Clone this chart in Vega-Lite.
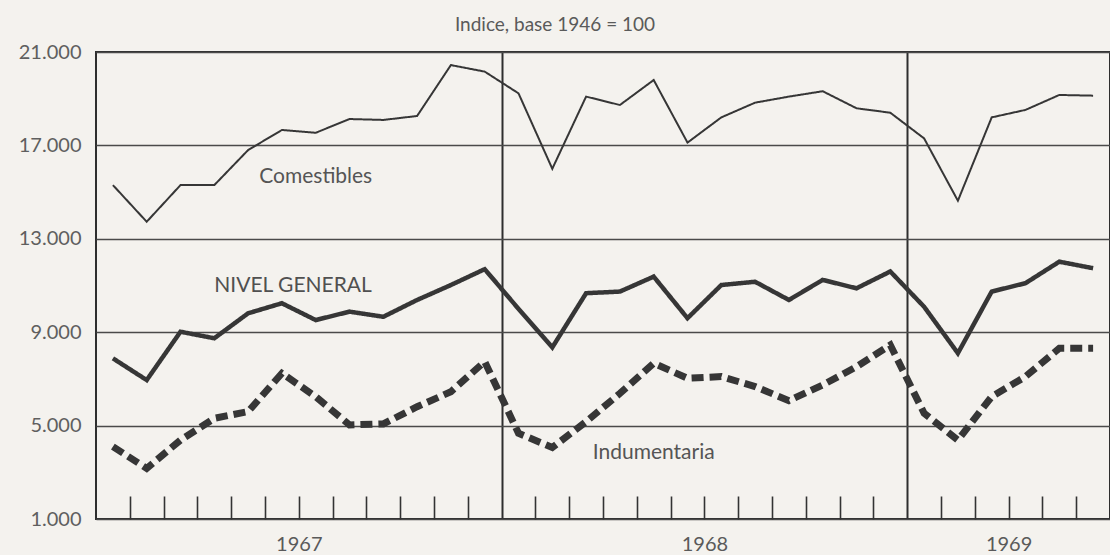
{
  "$schema": "https://vega.github.io/schema/vega-lite/v6.json",
  "width": 1014,
  "height": 467,
  "autosize": "none",
  "padding": {"left": 96, "top": 52, "right": 0, "bottom": 36},
  "background": "#f4f2ee",
  "config": {
    "view": {"stroke": "#2e2e2e", "strokeWidth": 2},
    "font": "Lato"
  },
  "title": {
    "text": "Indice, base 1946 = 100",
    "fontSize": 19,
    "fontWeight": "normal",
    "color": "#5a5a5a",
    "font": "Lato",
    "anchor": "middle",
    "dx": -48,
    "offset": 7
  },
  "datasets": {
    "series": [
      {"serie": "Comestibles", "mes": 1, "valor": 15300},
      {"serie": "Comestibles", "mes": 2, "valor": 13730},
      {"serie": "Comestibles", "mes": 3, "valor": 15300},
      {"serie": "Comestibles", "mes": 4, "valor": 15300},
      {"serie": "Comestibles", "mes": 5, "valor": 16800},
      {"serie": "Comestibles", "mes": 6, "valor": 17660},
      {"serie": "Comestibles", "mes": 7, "valor": 17540},
      {"serie": "Comestibles", "mes": 8, "valor": 18130},
      {"serie": "Comestibles", "mes": 9, "valor": 18090},
      {"serie": "Comestibles", "mes": 10, "valor": 18260},
      {"serie": "Comestibles", "mes": 11, "valor": 20440},
      {"serie": "Comestibles", "mes": 12, "valor": 20160},
      {"serie": "Comestibles", "mes": 13, "valor": 19230},
      {"serie": "Comestibles", "mes": 14, "valor": 16000},
      {"serie": "Comestibles", "mes": 15, "valor": 19090},
      {"serie": "Comestibles", "mes": 16, "valor": 18730},
      {"serie": "Comestibles", "mes": 17, "valor": 19800},
      {"serie": "Comestibles", "mes": 18, "valor": 17120},
      {"serie": "Comestibles", "mes": 19, "valor": 18200},
      {"serie": "Comestibles", "mes": 20, "valor": 18830},
      {"serie": "Comestibles", "mes": 21, "valor": 19090},
      {"serie": "Comestibles", "mes": 22, "valor": 19320},
      {"serie": "Comestibles", "mes": 23, "valor": 18590},
      {"serie": "Comestibles", "mes": 24, "valor": 18400},
      {"serie": "Comestibles", "mes": 25, "valor": 17300},
      {"serie": "Comestibles", "mes": 26, "valor": 14630},
      {"serie": "Comestibles", "mes": 27, "valor": 18200},
      {"serie": "Comestibles", "mes": 28, "valor": 18520},
      {"serie": "Comestibles", "mes": 29, "valor": 19160},
      {"serie": "Comestibles", "mes": 30, "valor": 19130},
      {"serie": "Nivel general", "mes": 1, "valor": 7880},
      {"serie": "Nivel general", "mes": 2, "valor": 6950},
      {"serie": "Nivel general", "mes": 3, "valor": 9020},
      {"serie": "Nivel general", "mes": 4, "valor": 8740},
      {"serie": "Nivel general", "mes": 5, "valor": 9810},
      {"serie": "Nivel general", "mes": 6, "valor": 10240},
      {"serie": "Nivel general", "mes": 7, "valor": 9520},
      {"serie": "Nivel general", "mes": 8, "valor": 9880},
      {"serie": "Nivel general", "mes": 9, "valor": 9660},
      {"serie": "Nivel general", "mes": 10, "valor": 10380},
      {"serie": "Nivel general", "mes": 11, "valor": 11020},
      {"serie": "Nivel general", "mes": 12, "valor": 11700},
      {"serie": "Nivel general", "mes": 13, "valor": 10000},
      {"serie": "Nivel general", "mes": 14, "valor": 8350},
      {"serie": "Nivel general", "mes": 15, "valor": 10670},
      {"serie": "Nivel general", "mes": 16, "valor": 10740},
      {"serie": "Nivel general", "mes": 17, "valor": 11380},
      {"serie": "Nivel general", "mes": 18, "valor": 9600},
      {"serie": "Nivel general", "mes": 19, "valor": 11020},
      {"serie": "Nivel general", "mes": 20, "valor": 11160},
      {"serie": "Nivel general", "mes": 21, "valor": 10380},
      {"serie": "Nivel general", "mes": 22, "valor": 11240},
      {"serie": "Nivel general", "mes": 23, "valor": 10880},
      {"serie": "Nivel general", "mes": 24, "valor": 11600},
      {"serie": "Nivel general", "mes": 25, "valor": 10090},
      {"serie": "Nivel general", "mes": 26, "valor": 8100},
      {"serie": "Nivel general", "mes": 27, "valor": 10740},
      {"serie": "Nivel general", "mes": 28, "valor": 11100},
      {"serie": "Nivel general", "mes": 29, "valor": 12020},
      {"serie": "Nivel general", "mes": 30, "valor": 11740},
      {"serie": "Indumentaria", "mes": 1, "valor": 4100},
      {"serie": "Indumentaria", "mes": 2, "valor": 3170},
      {"serie": "Indumentaria", "mes": 3, "valor": 4380},
      {"serie": "Indumentaria", "mes": 4, "valor": 5310},
      {"serie": "Indumentaria", "mes": 5, "valor": 5600},
      {"serie": "Indumentaria", "mes": 6, "valor": 7240},
      {"serie": "Indumentaria", "mes": 7, "valor": 6240},
      {"serie": "Indumentaria", "mes": 8, "valor": 5030},
      {"serie": "Indumentaria", "mes": 9, "valor": 5070},
      {"serie": "Indumentaria", "mes": 10, "valor": 5810},
      {"serie": "Indumentaria", "mes": 11, "valor": 6450},
      {"serie": "Indumentaria", "mes": 12, "valor": 7740},
      {"serie": "Indumentaria", "mes": 13, "valor": 4670},
      {"serie": "Indumentaria", "mes": 14, "valor": 4060},
      {"serie": "Indumentaria", "mes": 15, "valor": 5170},
      {"serie": "Indumentaria", "mes": 16, "valor": 6380},
      {"serie": "Indumentaria", "mes": 17, "valor": 7670},
      {"serie": "Indumentaria", "mes": 18, "valor": 7030},
      {"serie": "Indumentaria", "mes": 19, "valor": 7100},
      {"serie": "Indumentaria", "mes": 20, "valor": 6670},
      {"serie": "Indumentaria", "mes": 21, "valor": 6070},
      {"serie": "Indumentaria", "mes": 22, "valor": 6740},
      {"serie": "Indumentaria", "mes": 23, "valor": 7520},
      {"serie": "Indumentaria", "mes": 24, "valor": 8450},
      {"serie": "Indumentaria", "mes": 25, "valor": 5530},
      {"serie": "Indumentaria", "mes": 26, "valor": 4380},
      {"serie": "Indumentaria", "mes": 27, "valor": 6240},
      {"serie": "Indumentaria", "mes": 28, "valor": 7100},
      {"serie": "Indumentaria", "mes": 29, "valor": 8310},
      {"serie": "Indumentaria", "mes": 30, "valor": 8310}
    ],
    "rotulos": [
      {"texto": "Comestibles", "mes": 7.0, "valor": 15650},
      {"texto": "Indumentaria", "mes": 17.0, "valor": 3820}
    ],
    "rotuloGeneral": [
      {"texto": "NIVEL GENERAL", "mes": 6.33, "valor": 10980}
    ]
  },
  "layer": [
    {
      "data": {"name": "series"},
      "mark": {"type": "line", "color": "#363636", "strokeCap": "butt", "strokeJoin": "miter"},
      "encoding": {
        "x": {
          "field": "mes",
          "type": "quantitative",
          "scale": {"domain": [0.5, 30.5], "nice": false, "zero": false},
          "axis": {
            "orient": "bottom",
            "values": [6.5, 18.5, 27.5],
            "labelExpr": "datum.value < 12 ? '1967' : (datum.value < 24 ? '1968' : '1969')",
            "ticks": false,
            "domain": false,
            "grid": false,
            "title": null,
            "labelFontSize": 20,
            "labelFontWeight": "normal",
            "labelColor": "#5a5a5a",
            "labelPadding": 15,
            "labelFont": "Lato"
          }
        },
        "y": {
          "field": "valor",
          "type": "quantitative",
          "scale": {"domain": [1000, 21000], "nice": false, "zero": false},
          "axis": {
            "values": [1000, 5000, 9000, 13000, 17000, 21000],
            "labelExpr": "replace(format(datum.value, ','), ',', '.')",
            "title": null,
            "ticks": false,
            "domain": false,
            "grid": true,
            "gridColor": "#4a4a4a",
            "gridWidth": 1.5,
            "labelFontSize": 20,
            "labelFontWeight": "normal",
            "labelColor": "#5f5f5f",
            "labelPadding": 15,
            "labelFont": "Lato"
          }
        },
        "strokeWidth": {
          "field": "serie",
          "type": "ordinal",
          "scale": {"domain": ["Comestibles", "Nivel general", "Indumentaria"], "range": [2, 7, 5]},
          "legend": null
        },
        "strokeDash": {
          "field": "serie",
          "type": "nominal",
          "scale": {"domain": ["Comestibles", "Nivel general", "Indumentaria"], "range": [[1, 0], [1, 0], [12, 6]]},
          "legend": null
        }
      }
    },
    {
      "data": {"name": "rotulos"},
      "mark": {"type": "text", "fontSize": 21, "fontWeight": "normal", "color": "#555555", "align": "center", "baseline": "middle", "font": "Lato"},
      "encoding": {
        "x": {
          "field": "mes",
          "type": "quantitative",
          "axis": {
            "orient": "bottom",
            "values": [1.5, 2.5, 3.5, 4.5, 5.5, 6.5, 7.5, 8.5, 9.5, 10.5, 11.5, 13.5, 14.5, 15.5, 16.5, 17.5, 18.5, 19.5, 20.5, 21.5, 22.5, 23.5, 25.5, 26.5, 27.5, 28.5, 29.5],
            "labels": false,
            "domain": false,
            "grid": false,
            "ticks": true,
            "tickSize": -23,
            "tickColor": "#333333",
            "tickWidth": 1.6,
            "title": null
          }
        },
        "y": {"field": "valor", "type": "quantitative", "axis": null},
        "text": {"field": "texto"}
      }
    },
    {
      "data": {"name": "rotuloGeneral"},
      "mark": {"type": "text", "fontSize": 21, "fontWeight": "normal", "color": "#505050", "align": "center", "baseline": "middle", "font": "Lato"},
      "encoding": {
        "x": {
          "field": "mes",
          "type": "quantitative",
          "axis": {
            "orient": "top",
            "values": [12.5, 24.5],
            "labels": false,
            "domain": false,
            "ticks": false,
            "grid": true,
            "gridColor": "#2e2e2e",
            "gridWidth": 2,
            "title": null
          }
        },
        "y": {"field": "valor", "type": "quantitative", "axis": null},
        "text": {"field": "texto"}
      }
    }
  ],
  "resolve": {
    "scale": {"x": "shared", "y": "shared"},
    "axis": {"x": "independent", "y": "independent"}
  }
}
